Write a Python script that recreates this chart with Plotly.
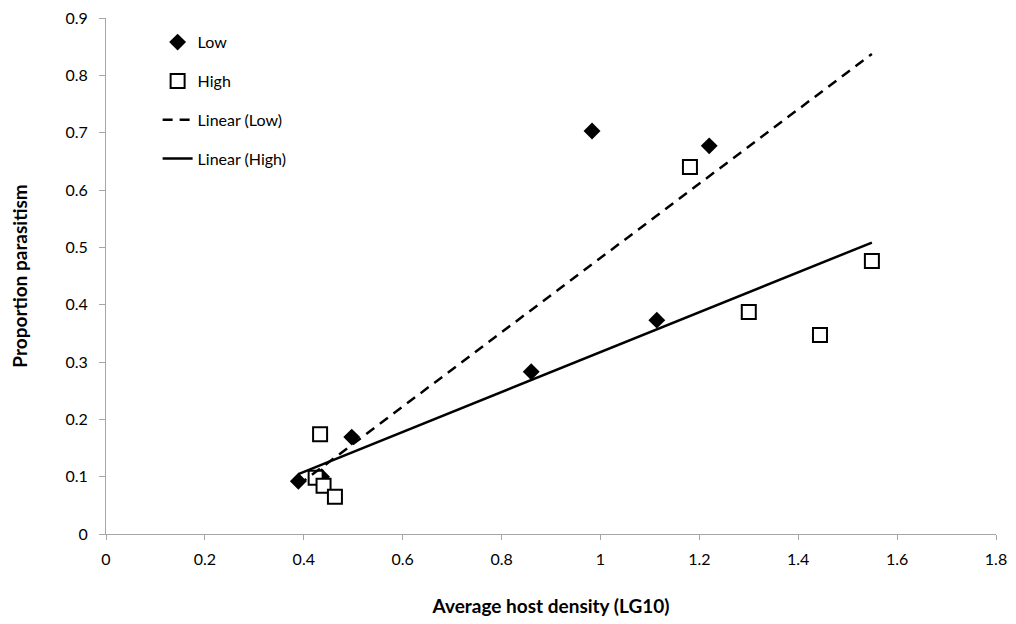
import numpy as np
import plotly.graph_objects as go

# Data
low_x = [0.389, 0.436, 0.497, 0.860, 0.983, 1.114, 1.220]
low_y = [0.092, 0.100, 0.169, 0.283, 0.703, 0.373, 0.677]
high_x = [0.424, 0.433, 0.440, 0.463, 1.181, 1.300, 1.444, 1.549]
high_y = [0.098, 0.174, 0.084, 0.065, 0.640, 0.387, 0.347, 0.476]

x_ticks = [0, 0.2, 0.4, 0.6, 0.8, 1, 1.2, 1.4, 1.6, 1.8]
x_tick_labels = ["0", "0.2", "0.4", "0.6", "0.8", "1", "1.2", "1.4", "1.6", "1.8"]
y_ticks = [0, 0.1, 0.2, 0.3, 0.4, 0.5, 0.6, 0.7, 0.8, 0.9]
y_tick_labels = ["0", "0.1", "0.2", "0.3", "0.4", "0.5", "0.6", "0.7", "0.8", "0.9"]

# Linear trendlines (least squares), spanning the full x range of the data
all_x = low_x + high_x
x_span = np.array([min(all_x), max(all_x)])
m_low, b_low = np.polyfit(low_x, low_y, 1)
m_high, b_high = np.polyfit(high_x, high_y, 1)

FONT = "Lato"

fig = go.Figure()
fig.add_trace(go.Scatter(
    x=low_x, y=low_y, mode="markers", name="Low", legendgroup="a",
    marker=dict(symbol="diamond", size=13, color="black", line=dict(width=0)),
))
fig.add_trace(go.Scatter(
    x=high_x, y=high_y, mode="markers", name="High", legendgroup="b",
    marker=dict(symbol="square", size=14, color="white", line=dict(width=2, color="black")),
))
fig.add_trace(go.Scatter(
    x=x_span, y=m_low * x_span + b_low, mode="lines", name="Linear (Low)", legendgroup="c",
    line=dict(color="black", width=2.5, dash="10px,7px"),
))
fig.add_trace(go.Scatter(
    x=x_span, y=m_high * x_span + b_high, mode="lines", name="Linear (High)", legendgroup="d",
    line=dict(color="black", width=2.5),
))

fig.update_layout(
    width=1016, height=624,
    margin=dict(l=98, r=28, t=10, b=98),
    paper_bgcolor="white", plot_bgcolor="white",
    font=dict(family=FONT, size=16, color="black"),
    showlegend=True,
    legend=dict(
        x=0.058, y=0.986, xanchor="left", yanchor="top",
        bgcolor="rgba(255,255,255,0)", font=dict(size=16),
        tracegroupgap=15,
    ),
    xaxis=dict(
        range=[0, 1.8], tickvals=x_ticks, ticktext=x_tick_labels, automargin=False,
        ticklabeloverflow="allow",
        showgrid=False, zeroline=False, showline=True, linecolor="#a6a6a6", linewidth=1,
        ticks="outside", tickcolor="#a6a6a6", ticklen=5, ticklabelstandoff=6,
        title=dict(text="<b>Average host density (LG10)</b>", standoff=32),
    ),
    yaxis=dict(
        range=[0, 0.9], tickvals=y_ticks, ticktext=y_tick_labels, automargin=False,
        ticklabeloverflow="allow",
        showgrid=False,
        zeroline=False, showline=True, linecolor="#a6a6a6", linewidth=1,
        ticks="outside", tickcolor="#a6a6a6", ticklen=6, ticklabelstandoff=8,
        title=dict(text="<b>Proportion parasitism</b>", standoff=32),
    ),
)

fig.write_html("out.html")
